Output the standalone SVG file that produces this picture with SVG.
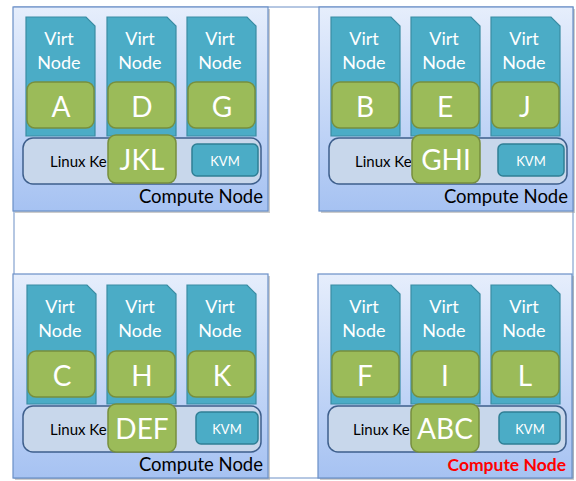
<svg xmlns="http://www.w3.org/2000/svg" width="576" height="481" viewBox="0 0 576 481">
<defs>
<linearGradient id="cg" x1="0" y1="0" x2="0" y2="1">
<stop offset="0" stop-color="#e6eefc"/>
<stop offset="1" stop-color="#a6c2f2"/>
</linearGradient>
<path id="vn" d="M0,0 H60 L69,9 V119 H0 Z"/>
</defs>
<style>
.frame{fill:#ffffff;stroke:#6d90c6;stroke-width:1}
.box{fill:url(#cg);stroke:#6a8fc7;stroke-width:1.2}
.shadow{fill:#9a9a9a;opacity:0.5}
.vn{fill:#4bacc6;stroke:#3a8ca3;stroke-width:1.2}
.gr{fill:#9bbb59;stroke:#778f3e;stroke-width:1.5}
.kr{fill:#c8d7eb;stroke:#3e5f8c;stroke-width:1.5}
.kvm{fill:#4bacc6;stroke:#2f7f95;stroke-width:1.5}
.vt{font-family:Lato,"Open Sans",sans-serif;font-size:18px;fill:#ffffff;text-anchor:middle}
.lt{font-family:Lato,"Open Sans",sans-serif;font-size:28px;fill:#ffffff;text-anchor:middle}
.lk{font-family:Lato,"Open Sans",sans-serif;font-size:15px;fill:#000000}
.kv{font-family:Lato,"Open Sans",sans-serif;font-size:13px;fill:#ffffff;text-anchor:middle}
.cn{font-family:Lato,"Open Sans",sans-serif;font-size:18.5px;fill:#000000;text-anchor:end}
.cnr{font-family:Lato,"Open Sans",sans-serif;font-size:17.5px;font-weight:bold;fill:#ff0000;text-anchor:end}
</style>
<g id="connectors">
<rect class="frame" x="14" y="7" width="559" height="471"/>
</g>
<g id="cn1" transform="translate(13,7)">
<rect class="shadow" x="2" y="2" width="255" height="204"/>
<rect class="box" x="0" y="0" width="255" height="204"/>
<use href="#vn" class="vn" x="13" y="10"/>
<use href="#vn" class="vn" x="94" y="10"/>
<use href="#vn" class="vn" x="174" y="10"/>
<text class="vt" x="46" y="38">Virt</text><text class="vt" x="46" y="62">Node</text>
<text class="vt" x="127" y="38">Virt</text><text class="vt" x="127" y="62">Node</text>
<text class="vt" x="207" y="38">Virt</text><text class="vt" x="207" y="62">Node</text>
<rect class="gr" x="14" y="75" width="67" height="46" rx="8"/>
<rect class="gr" x="95" y="75" width="67" height="46" rx="8"/>
<rect class="gr" x="175" y="75" width="67" height="46" rx="8"/>
<text class="lt" x="48" y="110">A</text>
<text class="lt" x="129" y="110">D</text>
<text class="lt" x="209" y="110">G</text>
<rect class="kr" x="10" y="131" width="238" height="46" rx="10"/>
<text class="lk" x="37" y="160">Linux Ke</text>
<rect class="gr" x="95" y="128" width="68" height="48" rx="8"/>
<text class="lt" x="129" y="163">JKL</text>
<rect class="kvm" x="179" y="137" width="66" height="32" rx="5"/>
<text class="kv" x="212" y="159">KVM</text>
<text class="cn" x="250" y="196">Compute Node</text>
</g>
<g id="cn2" transform="translate(319,7)">
<rect class="shadow" x="2" y="2" width="254" height="204"/>
<rect class="box" x="0" y="0" width="254" height="204"/>
<use href="#vn" class="vn" x="12" y="10"/>
<use href="#vn" class="vn" x="92" y="10"/>
<use href="#vn" class="vn" x="172" y="10"/>
<text class="vt" x="45" y="38">Virt</text><text class="vt" x="45" y="62">Node</text>
<text class="vt" x="125" y="38">Virt</text><text class="vt" x="125" y="62">Node</text>
<text class="vt" x="205" y="38">Virt</text><text class="vt" x="205" y="62">Node</text>
<rect class="gr" x="13" y="75" width="67" height="46" rx="8"/>
<rect class="gr" x="93" y="75" width="67" height="46" rx="8"/>
<rect class="gr" x="173" y="75" width="67" height="46" rx="8"/>
<text class="lt" x="46" y="110">B</text>
<text class="lt" x="126" y="110">E</text>
<text class="lt" x="206" y="110">J</text>
<rect class="kr" x="10" y="131" width="238" height="46" rx="10"/>
<text class="lk" x="36" y="160">Linux Ke</text>
<rect class="gr" x="93" y="128" width="68" height="48" rx="8"/>
<text class="lt" x="127" y="163">GHI</text>
<rect class="kvm" x="179" y="137" width="66" height="32" rx="5"/>
<text class="kv" x="212" y="159">KVM</text>
<text class="cn" x="249" y="196">Compute Node</text>
</g>
<g id="cn3" transform="translate(13,274)">
<rect class="shadow" x="2" y="2" width="255" height="204"/>
<rect class="box" x="0" y="0" width="255" height="204"/>
<use href="#vn" class="vn" x="14" y="11"/>
<use href="#vn" class="vn" x="94" y="11"/>
<use href="#vn" class="vn" x="174" y="11"/>
<text class="vt" x="47" y="39">Virt</text><text class="vt" x="127" y="39">Virt</text><text class="vt" x="207" y="39">Virt</text>
<text class="vt" x="47" y="63">Node</text><text class="vt" x="127" y="63">Node</text><text class="vt" x="207" y="63">Node</text>
<rect class="gr" x="15" y="77" width="67" height="46" rx="8"/>
<rect class="gr" x="95" y="77" width="67" height="46" rx="8"/>
<rect class="gr" x="175" y="77" width="67" height="46" rx="8"/>
<text class="lt" x="49" y="112">C</text>
<text class="lt" x="129" y="112">H</text>
<text class="lt" x="209" y="112">K</text>
<rect class="kr" x="10" y="132" width="238" height="46" rx="10"/>
<text class="lk" x="37" y="161">Linux Ke</text>
<rect class="gr" x="95" y="130" width="68" height="48" rx="8"/>
<text class="lt" x="129" y="165">DEF</text>
<rect class="kvm" x="183" y="138" width="62" height="32" rx="5"/>
<text class="kv" x="214" y="160">KVM</text>
<text class="cn" x="250" y="197">Compute Node</text>
</g>
<g id="cn4" transform="translate(318,274)">
<rect class="shadow" x="2" y="2" width="254" height="204"/>
<rect class="box" x="0" y="0" width="254" height="204"/>
<use href="#vn" class="vn" x="13" y="11"/>
<use href="#vn" class="vn" x="93" y="11"/>
<use href="#vn" class="vn" x="173" y="11"/>
<text class="vt" x="46" y="39">Virt</text><text class="vt" x="126" y="39">Virt</text><text class="vt" x="206" y="39">Virt</text>
<text class="vt" x="46" y="63">Node</text><text class="vt" x="126" y="63">Node</text><text class="vt" x="206" y="63">Node</text>
<rect class="gr" x="14" y="77" width="67" height="46" rx="8"/>
<rect class="gr" x="94" y="77" width="67" height="46" rx="8"/>
<rect class="gr" x="174" y="77" width="67" height="46" rx="8"/>
<text class="lt" x="47" y="112">F</text>
<text class="lt" x="127" y="112">I</text>
<text class="lt" x="207" y="112">L</text>
<rect class="kr" x="10" y="132" width="238" height="46" rx="10"/>
<text class="lk" x="35" y="161">Linux Ke</text>
<rect class="gr" x="93" y="130" width="68" height="48" rx="8"/>
<text class="lt" x="127" y="165">ABC</text>
<rect class="kvm" x="181" y="138" width="61" height="32" rx="5"/>
<text class="kv" x="212" y="160">KVM</text>
<text class="cnr" x="248" y="197">Compute Node</text>
</g>
</svg>
